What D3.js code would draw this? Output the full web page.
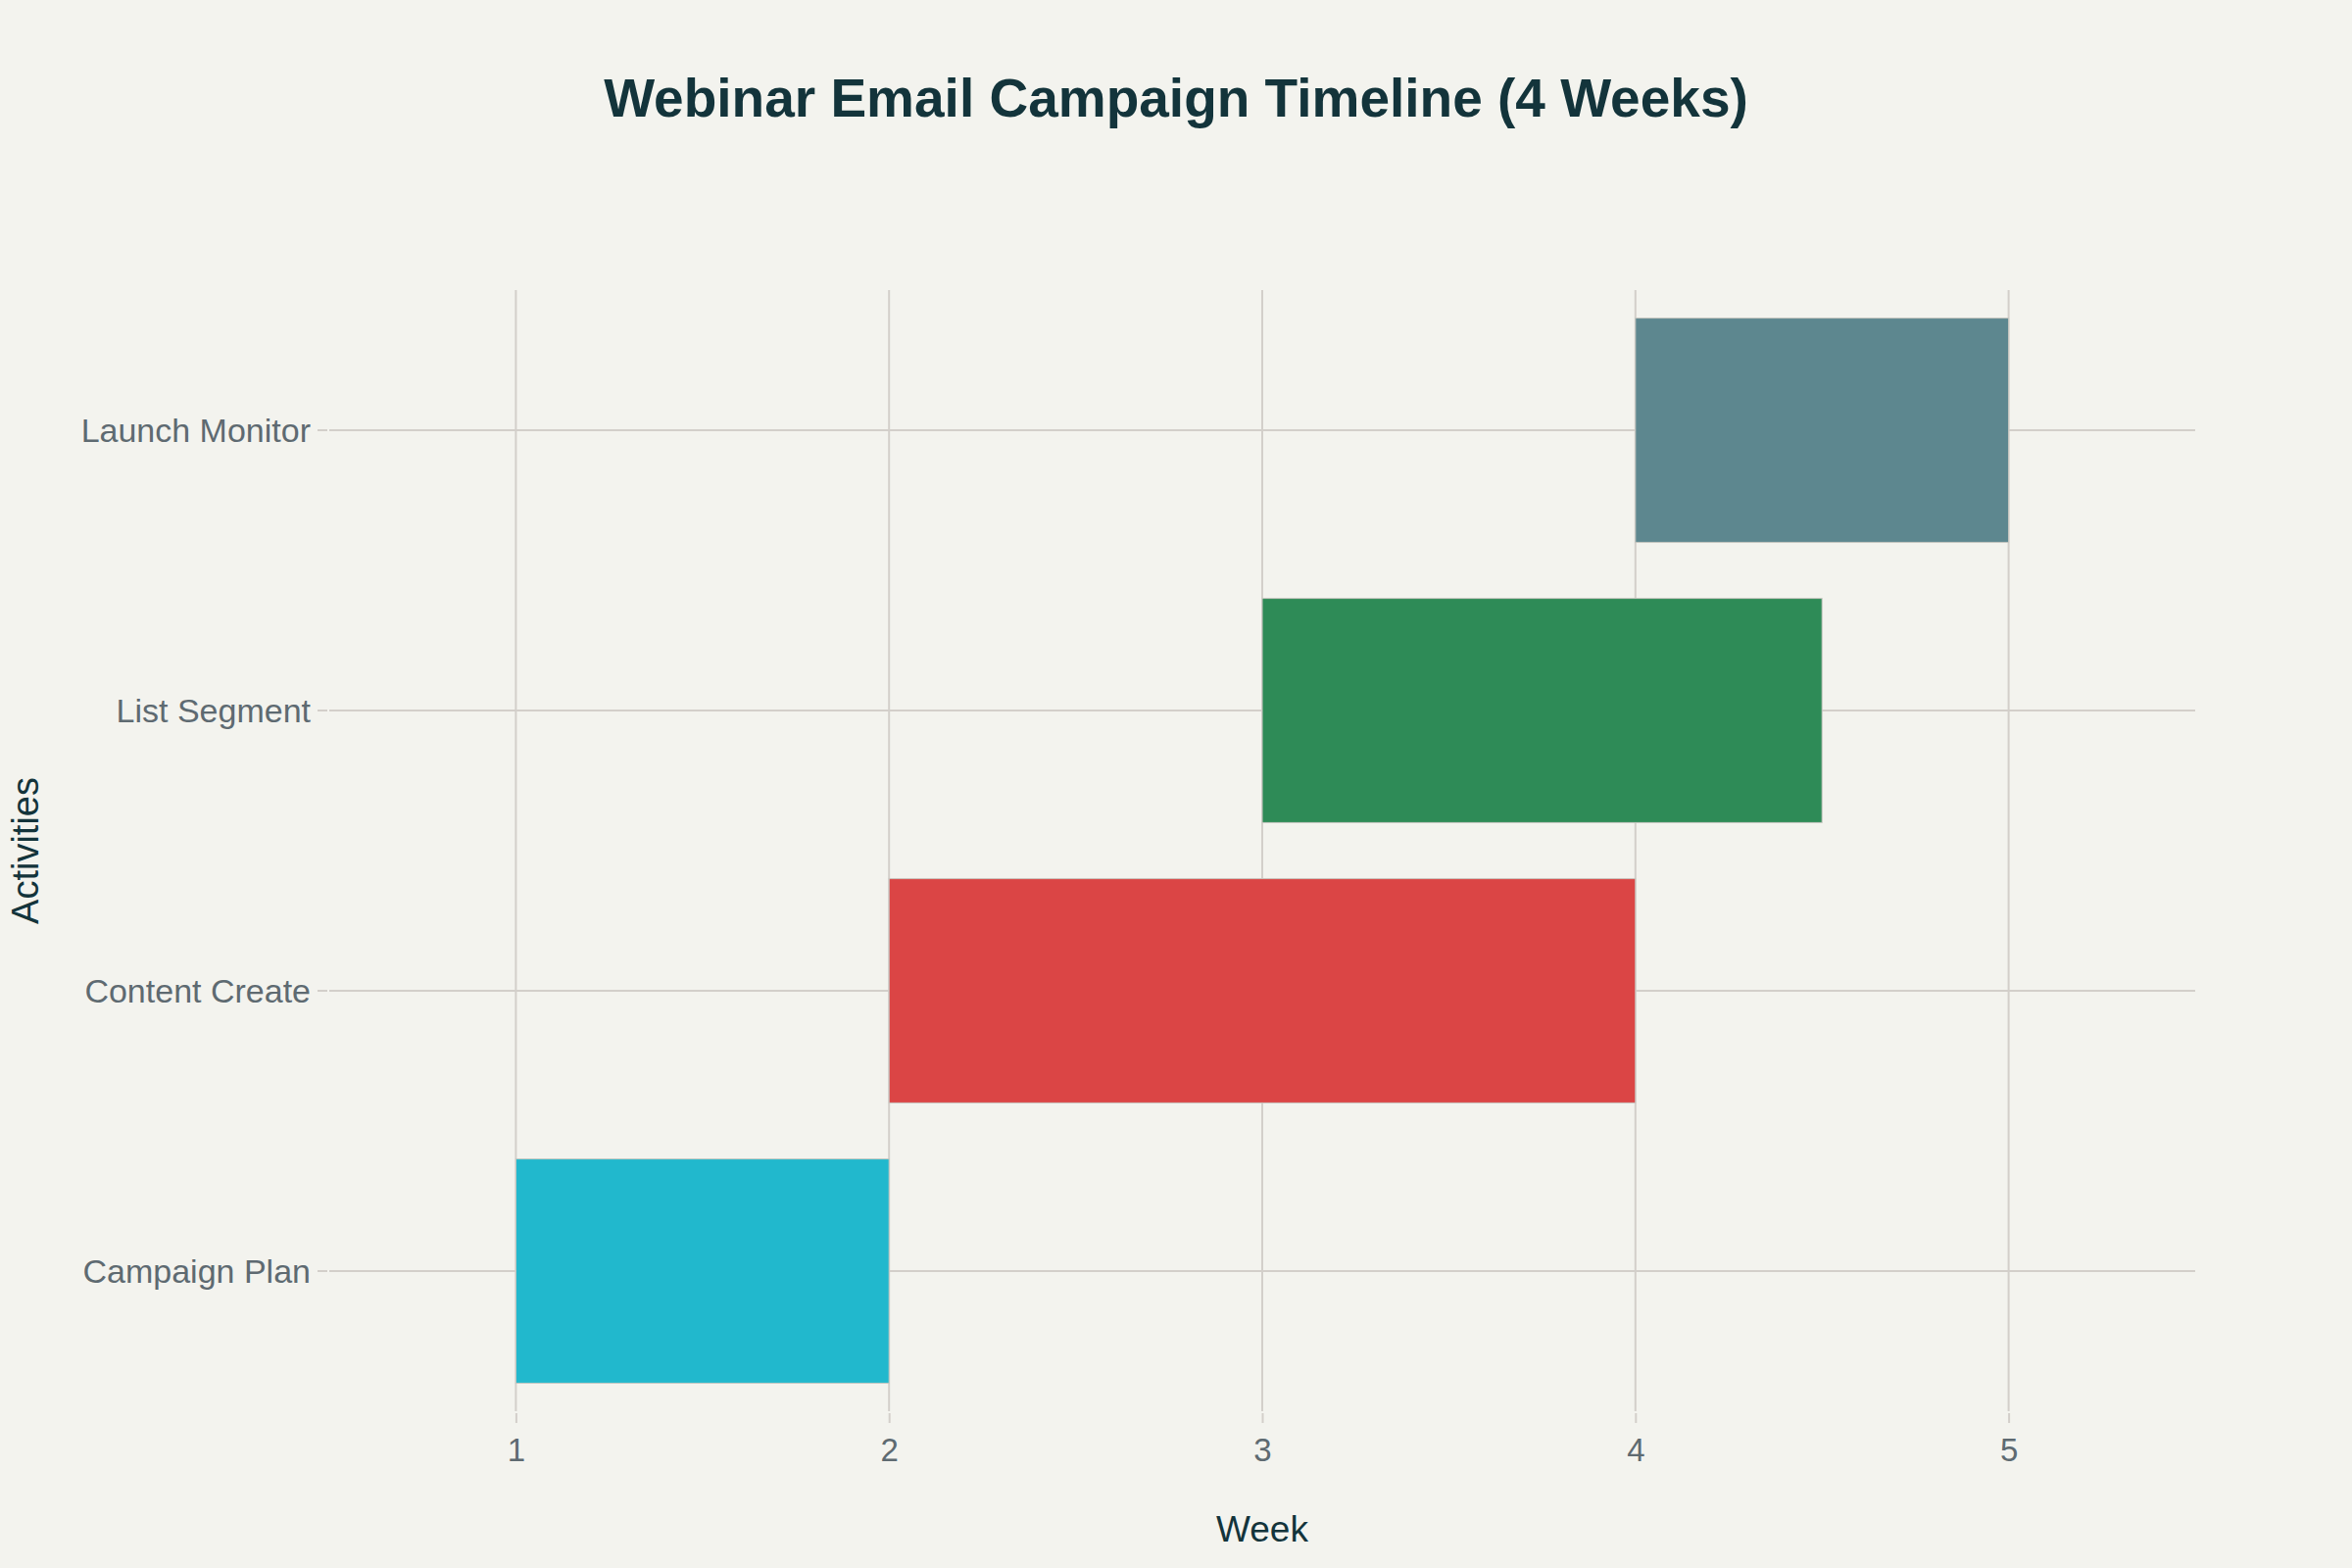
<!DOCTYPE html>
<html>
<head>
<meta charset="utf-8">
<script src="https://cdn.jsdelivr.net/npm/d3@7"></script>
<style>
  html, body { margin: 0; padding: 0; background: #f3f3ee; }
  svg { display: block; }
</style>
</head>
<body>
<svg id="chart" width="2400" height="1600"></svg>
<script>
// ---- Data ----
const activities = ["Campaign Plan", "Content Create", "List Segment", "Launch Monitor"];
const startWeeks = [1, 2, 3, 4];
const endWeeks = [2, 4, 4.5, 5];
const barColors = ["#21b8cd", "#db4545", "#2e8b57", "#5d878f"];
const xTicks = [1, 2, 3, 4, 5];
const titleText = "Webinar Email Campaign Timeline (4 Weeks)";
const xTitle = "Week";
const yTitle = "Activities";

// ---- Layout ----
const W = 2400, H = 1600;
const plot = { left: 336, right: 2240, top: 296, bottom: 1440 };
const fontFamily = "'Liberation Sans', Arial, Helvetica, sans-serif";
const gridColor = "#d3cfca";
const tickTextColor = "#5e6a71";
const titleColor = "#13343b";

const svg = d3.select("#chart");
svg.append("rect").attr("width", W).attr("height", H).attr("fill", "#f3f3ee");

const x = d3.scaleLinear().domain([0.5, 5.5]).range([plot.left, plot.right]);
const y = d3.scaleBand()
  .domain(activities.slice().reverse())
  .range([plot.top, plot.bottom])
  .paddingInner(0.2)
  .paddingOuter(0.1);

// Gridlines
const grid = svg.append("g");
grid.selectAll("line.vgrid").data(xTicks).join("line")
  .attr("class", "vgrid")
  .attr("x1", d => x(d)).attr("x2", d => x(d))
  .attr("y1", plot.top).attr("y2", plot.bottom)
  .attr("stroke", gridColor).attr("stroke-width", 2);
grid.selectAll("line.hgrid").data(activities).join("line")
  .attr("class", "hgrid")
  .attr("x1", plot.left).attr("x2", plot.right)
  .attr("y1", d => y(d) + y.bandwidth() / 2).attr("y2", d => y(d) + y.bandwidth() / 2)
  .attr("stroke", gridColor).attr("stroke-width", 2);

// Bars
const rows = activities.map((a, i) => ({ name: a, start: startWeeks[i], end: endWeeks[i], color: barColors[i] }));
svg.append("g").selectAll("rect").data(rows).join("rect")
  .attr("x", d => x(d.start))
  .attr("y", d => y(d.name))
  .attr("width", d => x(d.end) - x(d.start))
  .attr("height", y.bandwidth())
  .attr("fill", d => d.color)
  .attr("stroke", "#c9c8c2")
  .attr("stroke-width", 1);

// X axis
const xAxis = svg.append("g")
  .attr("transform", `translate(0,${plot.bottom + 2})`)
  .call(d3.axisBottom(x).tickValues(xTicks).tickFormat(d3.format("d")).tickSize(10).tickPadding(16));
xAxis.select(".domain").remove();
xAxis.selectAll(".tick line").attr("stroke", gridColor).attr("stroke-width", 2);
xAxis.selectAll(".tick text")
  .attr("fill", tickTextColor)
  .attr("font-family", fontFamily)
  .attr("font-size", 33)
  .attr("dy", "0.71em");

// Y axis
const yAxis = svg.append("g")
  .attr("transform", `translate(${plot.left - 2},0)`)
  .call(d3.axisLeft(y).tickSize(10).tickPadding(7));
yAxis.select(".domain").remove();
yAxis.selectAll(".tick line").attr("stroke", gridColor).attr("stroke-width", 2);
yAxis.selectAll(".tick text")
  .attr("fill", tickTextColor)
  .attr("font-family", fontFamily)
  .attr("font-size", 34)
  .attr("dy", "0.36em");

// Title
svg.append("text")
  .attr("x", W / 2).attr("y", 119)
  .attr("text-anchor", "middle")
  .attr("font-family", fontFamily)
  .attr("font-weight", "bold")
  .attr("font-size", 55)
  .attr("fill", titleColor)
  .text(titleText);

// Axis titles
svg.append("text")
  .attr("x", (plot.left + plot.right) / 2).attr("y", 1573)
  .attr("text-anchor", "middle")
  .attr("font-family", fontFamily)
  .attr("font-size", 37)
  .attr("fill", titleColor)
  .text(xTitle);

svg.append("text")
  .attr("transform", `translate(39,${(plot.top + plot.bottom) / 2}) rotate(-90)`)
  .attr("text-anchor", "middle")
  .attr("font-family", fontFamily)
  .attr("font-size", 38)
  .attr("fill", titleColor)
  .text(yTitle);
</script>
</body>
</html>
